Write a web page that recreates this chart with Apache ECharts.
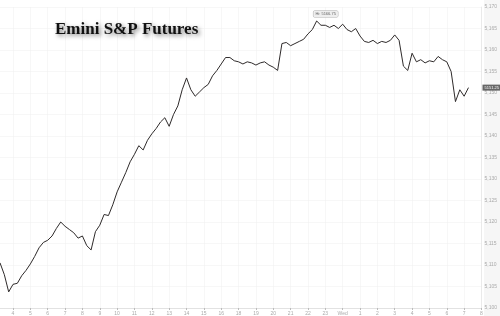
<!DOCTYPE html>
<html>
<head>
<meta charset="utf-8">
<script src="https://cdn.jsdelivr.net/npm/echarts@6/dist/echarts.min.js"></script>
<style>html,body{margin:0;padding:0;background:#fff}#c{width:500px;height:316px}</style>
</head>
<body>
<div id="c"></div>
<script>
// Hour tick labels (session break 17:00-18:00 removed)
const hourLabels = ['4','5','6','7','8','9','10','11','12','13','14','15','16','18','19','20','21','22','23','Wed','1','2','3','4','5','6','7','8'];
const yTickMin = 5100;
const yTickMax = 5170;
const yTickStep = 5;
// 15-minute closes, starting 3:15
const es = [
5110.5,5107.75,5103.75,5105.5,5105.75,5107.5,5108.75,5110.25,5112,5114,
5115.25,5115.75,5116.75,5118.5,5120,5119,5118.25,5117.5,5116.25,5116.75,
5114.5,5113.5,5117.75,5119.25,5121.75,5121.5,5124,5127,5129.25,5131.5,
5134,5135.75,5137.75,5136.75,5139,5140.5,5141.75,5143.25,5144.25,5142.25,
5145,5147,5150.75,5153.5,5150.75,5149.25,5150.25,5151.25,5152,5154,
5155.25,5156.75,5158.25,5158.25,5157.5,5157.25,5156.75,5157.25,5157,5156.5,
5157,5157.25,5156.5,5156,5155.25,5161.5,5161.75,5161,5161.5,5162,
5162.5,5163.75,5164.75,5166.75,5165.75,5165.75,5165.25,5165.75,5165,5166,
5164.75,5164.25,5165,5163.25,5162,5161.75,5162.25,5161.5,5162,5161.75,
5162.25,5163.5,5162.25,5156.25,5155.25,5159.25,5157.25,5157.75,5157,5157.5,
5157.25,5158.5,5157.75,5157.25,5155,5148,5150.75,5149.25,5151.25
];

const categories = ['3:15','3:30','3:45'];
hourLabels.forEach((h, i) => {
  categories.push(h + ':00');
  if (i < hourLabels.length - 1) { categories.push(h + ':15', h + ':30', h + ':45'); }
});
const isHour = (idx) => categories[idx].endsWith(':00');
const last = es[es.length - 1];

const chart = echarts.init(document.getElementById('c'));
chart.setOption({
  animation: false,
  backgroundColor: '#fff',
  title: {
    text: 'Emini S&P Futures',
    left: 50, top: 16,
    textStyle: {
      fontFamily: 'Liberation Serif', fontWeight: 'bold', fontSize: 17, color: '#111',
      textShadowColor: 'rgba(0,0,0,0.5)', textShadowBlur: 4, textShadowOffsetX: 2, textShadowOffsetY: 2
    }
  },
  graphic: [{ type: 'rect', right: 0, top: 0, shape: { width: 16, height: 316 }, style: { fill: '#f6f6f6' }, z: -10 }],
  grid: { left: 0, right: 16, top: 7, bottom: 8 },
  xAxis: {
    type: 'category', data: categories, boundaryGap: false,
    axisLine: { lineStyle: { color: '#ccc', width: 0.5 } },
    axisTick: { show: true, interval: (i) => isHour(i), length: 2, lineStyle: { color: '#bbb' } },
    axisLabel: { interval: (i) => isHour(i), formatter: (v) => v.endsWith(':00') ? v.slice(0, -3) : '', fontSize: 5, color: '#aaa', margin: 3 },
    splitLine: { show: true, interval: (i) => isHour(i), lineStyle: { color: '#efefef', width: 0.5 } }
  },
  yAxis: {
    type: 'value', position: 'right', min: yTickMin, max: yTickMax, interval: yTickStep,
    axisLine: { show: true, lineStyle: { color: '#ddd', width: 0.5 } },
    axisTick: { show: false },
    axisLabel: { fontSize: 5, color: '#aaa', margin: 3 },
    splitLine: { show: true, lineStyle: { color: '#efefef', width: 0.5 } }
  },
  series: [{
    type: 'line', data: es, symbol: 'none',
    lineStyle: { color: '#2e2a2a', width: 1 },
    markPoint: {
      symbol: 'rect', symbolSize: 0,
      data: [{ type: 'max' }],
      label: {
        show: true, position: 'top', distance: 4, offset: [9, 0],
        formatter: (p) => 'Hi: ' + p.value.toFixed(2),
        fontSize: 4, color: '#666', backgroundColor: '#eee', borderColor: '#aaa', borderWidth: 0.5,
        borderRadius: 1, padding: [1, 2]
      }
    },
    markLine: {
      silent: true, symbol: ['none', 'none'],
      lineStyle: { color: 'rgba(0,0,0,0)', width: 1, type: 'solid' },
      data: [{ yAxis: last }],
      label: {
        show: true, position: 'end', distance: 1,
        formatter: () => last.toFixed(2),
        fontSize: 4, color: '#fff', backgroundColor: '#666', padding: [1, 2]
      }
    }
  }]
});
</script>
</body>
</html>
